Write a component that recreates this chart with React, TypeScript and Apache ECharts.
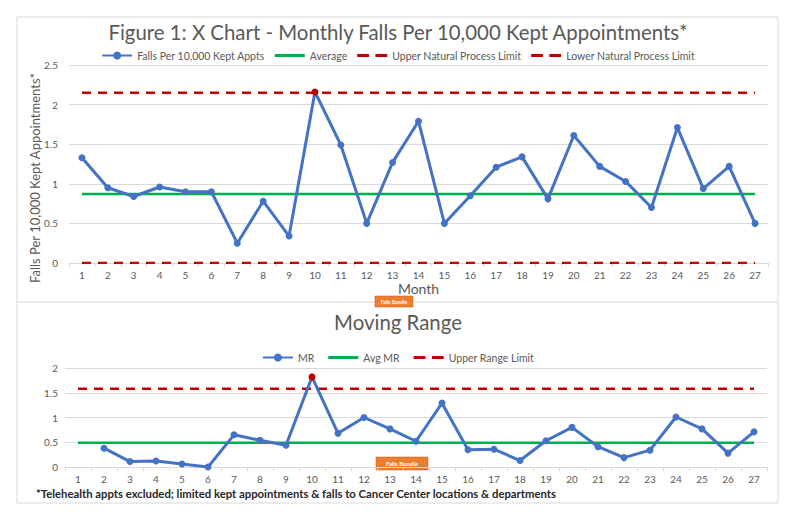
import React, { useEffect, useRef } from "react";
import * as echarts from "echarts";

const months: string[] = ["1","2","3","4","5","6","7","8","9","10","11","12","13","14","15","16","17","18","19","20","21","22","23","24","25","26","27"];
const fallsRate: number[] = [1.33,0.95,0.84,0.96,0.9,0.9,0.25,0.78,0.34,2.16,1.49,0.5,1.27,1.79,0.5,0.85,1.21,1.34,0.81,1.61,1.22,1.03,0.7,1.71,0.94,1.22,0.5];
const averageRate = 0.87;
const upperNPL = 2.15;
const lowerNPL = 0;
const movingRange: (number | null)[] = [null,0.38,0.11,0.12,0.06,0.0,0.65,0.54,0.44,1.82,0.68,1.0,0.77,0.52,1.29,0.35,0.36,0.13,0.53,0.8,0.41,0.19,0.34,1.01,0.77,0.28,0.71];
const avgMR = 0.49;
const upperRangeLimit = 1.58;
const topYTicks = { min: 0, max: 2.5, interval: 0.5 };
const bottomYTicks = { min: 0, max: 2, interval: 0.5 };
const signalIndex = 9; // month 10 flagged in red

const FONT = "Lato, 'Open Sans', sans-serif";
const BLUE = "#4472C4";
const GREEN = "#00B050";
const RED = "#C00000";
const GRAY_TXT = "#595959";
const GRID_LINE = "#D9D9D9";

const SOLID_ICON = "path://M0,0H30V3H0Z";
const DASH_ICON = "path://M0,0H11V3H0Z M17,0H28V3H17Z";

export default function App() {
  const ref = useRef<HTMLDivElement>(null);
  useEffect(() => {
    if (!ref.current) return;
    const chart = echarts.init(ref.current, undefined, { renderer: "svg" });
    const first = months[0];
    const last = months[months.length - 1];
    const hline = (v: number) => [[first, v], [last, v]];
    const flagged = (arr: (number | null)[]) =>
      arr.map((v, i) => (i === signalIndex ? { value: v, itemStyle: { color: RED } } : v));

    const xAxisCommon = {
      type: "category" as const,
      data: months,
      boundaryGap: true,
      axisLine: { show: true, lineStyle: { color: GRID_LINE, width: 1 } },
      axisTick: { show: true, length: 4, lineStyle: { color: GRID_LINE } },
      axisLabel: { color: GRAY_TXT, fontSize: 10, fontFamily: FONT, margin: 7 },
    };
    const yAxisCommon = {
      type: "value" as const,
      axisLine: { show: false },
      axisTick: { show: false },
      splitLine: { show: true, lineStyle: { color: GRID_LINE, width: 1 } },
      axisLabel: { color: GRAY_TXT, fontSize: 10, fontFamily: FONT },
    };
    const blueLine = { color: BLUE, width: 3 };
    const legendText = { color: GRAY_TXT, fontSize: 10.5, fontFamily: FONT };

    chart.setOption({
      animation: false,
      backgroundColor: "#ffffff",
      title: [
        {
          text: "Figure 1: X Chart - Monthly Falls Per 10,000 Kept Appointments*",
          left: "center",
          top: 17,
          textStyle: { fontFamily: FONT, fontSize: 20.4, fontWeight: "normal", color: GRAY_TXT },
        },
        {
          text: "Moving Range",
          left: "center",
          top: 307,
          textStyle: { fontFamily: FONT, fontSize: 20.4, fontWeight: "normal", color: GRAY_TXT },
        },
      ],
      legend: [
        {
          top: 45,
          left: "center",
          itemWidth: 30,
          itemHeight: 10,
          itemGap: 10,
          textStyle: legendText,
          data: [
            { name: "Falls Per 10,000 Kept Appts" },
            { name: "Average", icon: SOLID_ICON, itemStyle: { color: GREEN } },
            { name: "Upper Natural Process Limit", icon: DASH_ICON, itemStyle: { color: RED } },
            { name: "Lower Natural Process Limit", icon: DASH_ICON, itemStyle: { color: RED } },
          ],
        },
        {
          top: 347,
          left: "center",
          itemWidth: 30,
          itemHeight: 10,
          itemGap: 14,
          textStyle: legendText,
          data: [
            { name: "MR" },
            { name: "Avg MR", icon: SOLID_ICON, itemStyle: { color: GREEN } },
            { name: "Upper Range Limit", icon: DASH_ICON, itemStyle: { color: RED } },
          ],
        },
      ],
      grid: [
        { left: 69, right: 28, top: 65, height: 198 },
        { left: 65, right: 29, top: 368, height: 99 },
      ],
      xAxis: [
        {
          ...xAxisCommon,
          gridIndex: 0,
          name: "Month",
          nameLocation: "middle",
          nameGap: 18,
          nameTextStyle: { color: GRAY_TXT, fontSize: 14, fontFamily: FONT },
        },
        { ...xAxisCommon, gridIndex: 1 },
      ],
      yAxis: [
        {
          ...yAxisCommon,
          gridIndex: 0,
          ...topYTicks,
          axisLabel: { ...yAxisCommon.axisLabel, margin: 11 },
          name: "Falls Per 10,000 Kept Appointments*",
          nameLocation: "middle",
          nameGap: 28,
          nameMoveOverlap: false,
          nameTextStyle: { color: GRAY_TXT, fontSize: 13, fontFamily: FONT, padding: [0, 28, 0, 0] },
        },
        {
          ...yAxisCommon,
          gridIndex: 1,
          ...bottomYTicks,
          axisLabel: { ...yAxisCommon.axisLabel, margin: 7 },
        },
      ],
      series: [
        {
          name: "Falls Per 10,000 Kept Appts",
          type: "line",
          xAxisIndex: 0,
          yAxisIndex: 0,
          data: flagged(fallsRate),
          symbol: "circle",
          symbolSize: 7,
          lineStyle: blueLine,
          itemStyle: { color: BLUE },
          z: 5,
        },
        {
          name: "Average",
          type: "line",
          xAxisIndex: 0,
          yAxisIndex: 0,
          data: hline(averageRate),
          symbol: "none",
          lineStyle: { color: GREEN, width: 2.5 },
          itemStyle: { color: GREEN },
          z: 3,
        },
        {
          name: "Upper Natural Process Limit",
          type: "line",
          xAxisIndex: 0,
          yAxisIndex: 0,
          data: hline(upperNPL),
          symbol: "none",
          lineStyle: { color: RED, width: 2.5, type: [9, 7] },
          itemStyle: { color: RED },
          z: 3,
        },
        {
          name: "Lower Natural Process Limit",
          type: "line",
          xAxisIndex: 0,
          yAxisIndex: 0,
          data: hline(lowerNPL),
          symbol: "none",
          lineStyle: { color: RED, width: 2.5, type: [9, 7] },
          itemStyle: { color: RED },
          z: 3,
        },
        {
          name: "MR",
          type: "line",
          xAxisIndex: 1,
          yAxisIndex: 1,
          data: flagged(movingRange),
          symbol: "circle",
          symbolSize: 7,
          lineStyle: blueLine,
          itemStyle: { color: BLUE },
          z: 5,
        },
        {
          name: "Avg MR",
          type: "line",
          xAxisIndex: 1,
          yAxisIndex: 1,
          data: hline(avgMR),
          symbol: "none",
          lineStyle: { color: GREEN, width: 2.5 },
          itemStyle: { color: GREEN },
          z: 3,
        },
        {
          name: "Upper Range Limit",
          type: "line",
          xAxisIndex: 1,
          yAxisIndex: 1,
          data: hline(upperRangeLimit),
          symbol: "none",
          lineStyle: { color: RED, width: 2.5, type: [9, 7] },
          itemStyle: { color: RED },
          z: 3,
        },
      ],
      graphic: [
        {
          type: "rect",
          shape: { x: 17, y: 17, width: 761, height: 486 },
          style: { fill: "none", stroke: "#D9D9D9", lineWidth: 1 },
          silent: true,
        },
        {
          type: "line",
          shape: { x1: 17, y1: 302, x2: 778, y2: 302 },
          style: { stroke: "#D9D9D9", lineWidth: 1 },
          silent: true,
        },
        {
          type: "group",
          x: 375,
          y: 296,
          children: [
            { type: "rect", shape: { x: 0, y: 0, width: 38, height: 11 }, style: { fill: "#ED7D31", stroke: "#C55A11", lineWidth: 0.5 } },
            { type: "text", x: 19, y: 5.5, style: { text: "Falls Bundle", fill: "#ffffff", fontSize: 5, fontFamily: FONT, fontWeight: "bold", align: "center", verticalAlign: "middle" } },
          ],
        },
        {
          type: "group",
          x: 376,
          y: 457,
          children: [
            { type: "rect", shape: { x: 0, y: 0, width: 52, height: 13 }, style: { fill: "#ED7D31", stroke: "#C55A11", lineWidth: 0.5 } },
            { type: "text", x: 26, y: 6.5, style: { text: "Falls Bundle", fill: "#ffffff", fontSize: 6, fontFamily: FONT, fontWeight: "bold", align: "center", verticalAlign: "middle" } },
          ],
        },
        {
          type: "text",
          x: 36,
          y: 493,
          style: {
            text: "*Telehealth appts excluded; limited kept appointments & falls to Cancer Center locations & departments",
            fill: "#262626",
            fontSize: 11.3,
            fontFamily: FONT,
            fontWeight: "bold",
            verticalAlign: "middle",
          },
        },
      ],
    });
    return () => chart.dispose();
  }, []);
  return <div ref={ref} style={{ position: "fixed", left: 0, top: 0, width: 796, height: 522, background: "#fff" }} />;
}
